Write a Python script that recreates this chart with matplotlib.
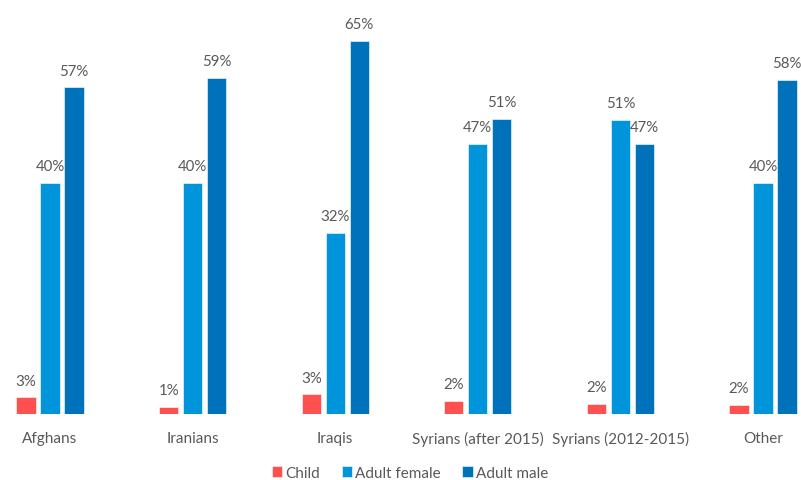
import numpy as np
import matplotlib.pyplot as plt

groups = ["Afghans", "Iranians", "Iraqis", "Syrians (after 2015)",
          "Syrians (2012-2015)", "Other"]
child = [3, 1, 3, 2, 2, 2]
adult_female = [40, 40, 32, 47, 51, 40]
adult_male = [57, 59, 65, 51, 47, 58]
child_exact = [2.9, 1.2, 3.4, 2.3, 1.8, 1.6]
female_exact = [40.2, 40.2, 31.6, 47.0, 51.2, 40.3]
male_exact = [56.9, 58.6, 65.0, 51.4, 47.0, 58.2]

series = [
    ("Child", child, child_exact, "#FF5050"),
    ("Adult female", adult_female, female_exact, "#0095DA"),
    ("Adult male", adult_male, male_exact, "#0072BC"),
]

plt.rcParams["font.family"] = ["Lato", "DejaVu Sans"]
text_color = "#595959"

fig = plt.figure(figsize=(8.01, 4.81), dpi=100)
# axes run slightly past the left/right edges of the figure
ax = fig.add_axes([-21.3 / 801, 66 / 481, 855.6 / 801, 400 / 481])

x = np.arange(len(groups))
width = 0.135
step = 0.168
for i, (name, labels, vals, color) in enumerate(series):
    pos = x + (i - 1) * step
    bars = ax.bar(pos, vals, width, color=color, label=name,
                  edgecolor="white", linewidth=0.4)
    for b, lab in zip(bars, labels):
        ax.text(b.get_x() + b.get_width() / 2, b.get_height() + 1.7,
                f"{lab}%", ha="center", va="bottom", fontsize=10.8,
                color=text_color)

ax.set_xlim(-0.5, 5.5)
ax.set_ylim(0, 400 / 5.74)
ax.set_xticks(x)
ax.set_xticklabels(groups, fontsize=11, color=text_color)
ax.tick_params(axis="x", length=0, pad=12)
ax.set_yticks([])
for s in ax.spines.values():
    s.set_visible(False)
ax.axhline(0, color="#F0F0F0", linewidth=0.8, zorder=0)

fig.legend(loc="center", bbox_to_anchor=(410 / 801, 1 - 474 / 481), ncol=3,
           frameon=False, fontsize=11, handlelength=0.7, handleheight=0.7,
           handletextpad=0.2, columnspacing=1.4, labelcolor=text_color)

fig.savefig("out.png", dpi=100)
